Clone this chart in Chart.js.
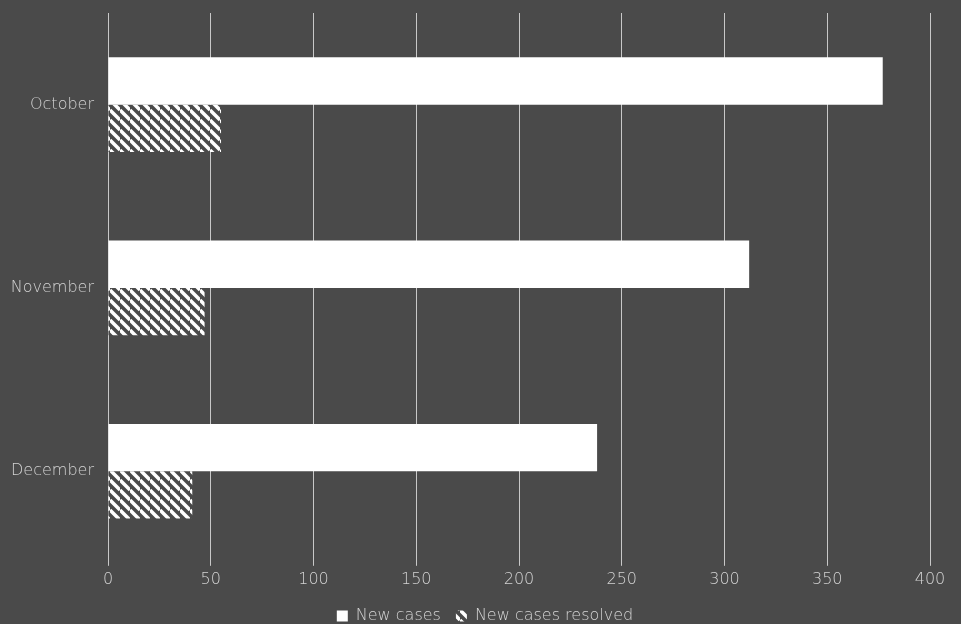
<!DOCTYPE html>
<html>
<head>
<meta charset="utf-8">
<script src="https://cdn.jsdelivr.net/npm/chart.js@4"></script>
<style>
  html, body { margin: 0; padding: 0; background: #4a4a4a; }
  #wrap { width: 961px; height: 624px; }
</style>
</head>
<body>
<div id="wrap"><canvas id="myChart"></canvas></div>
<script>
let months = ['October', 'November', 'December'];
let newCases = [377, 312, 238];
let resolvedCases = [55, 47, 41];
let xTicks = [0, 50, 100, 150, 200, 250, 300, 350, 400];

// diagonal white stripes for the resolved bars
function makeHatch() {
	let s = 10;
	let c = document.createElement('canvas');
	c.width = s;
	c.height = s;
	let g = c.getContext('2d');
	g.fillStyle = '#4a4a4a';
	g.fillRect(0, 0, s, s);
	g.strokeStyle = '#ffffff';
	g.lineWidth = 3.5;
	for (let k = -1; k <= 1; k++) {
		g.beginPath();
		g.moveTo(0, k * s);
		g.lineTo(s, s + k * s);
		g.stroke();
	}
	return g.createPattern(c, 'repeat');
}

// legend is centred on the whole canvas in the original, not on the padded area
const legendShift = {
	id: 'legendShift',
	afterLayout(chart) {
		if (chart.legend) {
			chart.legend.left += 15;
			chart.legend.right += 15;
		}
	}
};

let textColor = '#d4d4d4';
let fontFamily = "'DejaVu Sans', sans-serif";

let ctx = document.getElementById('myChart');
let myChart = new Chart(ctx, {
	type: 'bar',
	data: {
		labels: months,
		datasets: [{
			label: 'New cases',
			data: newCases,
			backgroundColor: '#ffffff',
			borderWidth: 0
		}, {
			label: 'New cases resolved',
			data: resolvedCases,
			backgroundColor: makeHatch(),
			borderWidth: 0
		}]
	},
	plugins: [legendShift],
	options: {
		indexAxis: 'y',
		responsive: true,
		maintainAspectRatio: false,
		animation: false,
		layout: { padding: { top: 13, right: 31, bottom: -10, left: 10 } },
		datasets: {
			bar: { categoryPercentage: 0.516, barPercentage: 1 }
		},
		scales: {
			x: {
				min: 0,
				max: 400,
				afterBuildTicks: (scale) => {
					scale.ticks = xTicks.map(v => ({ value: v }));
				},
				grid: { color: '#c8c8c8', lineWidth: 1, drawTicks: true, tickLength: 3 },
				border: { display: false },
				ticks: {
					color: textColor,
					padding: 4,
					font: { family: fontFamily, size: 16, weight: '200' }
				}
			},
			y: {
				grid: { display: false, drawTicks: false },
				border: { display: false },
				afterFit: (scale) => {
					scale.width = 98;
					scale.paddingTop = 0;
					scale.paddingBottom = 0;
				},
				ticks: {
					color: textColor,
					padding: 14,
					font: { family: fontFamily, size: 16, weight: '200' }
				}
			}
		},
		plugins: {
			legend: {
				position: 'bottom',
				labels: {
					color: textColor,
					boxWidth: 11,
					boxHeight: 11,
					padding: 15,
					font: { family: fontFamily, size: 16, weight: '200' }
				}
			},
			tooltip: { enabled: false }
		}
	}
});
</script>
</body>
</html>
